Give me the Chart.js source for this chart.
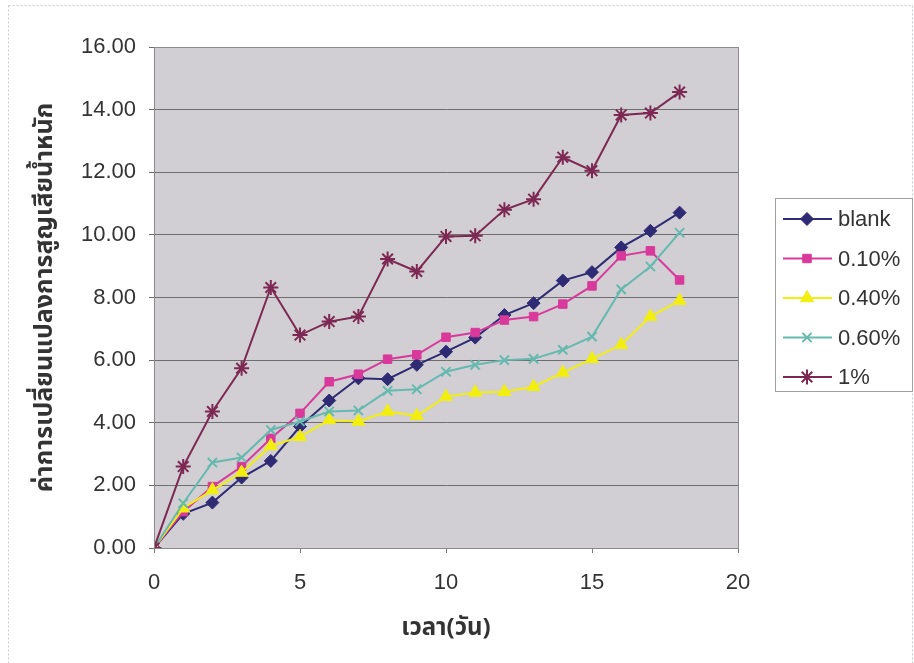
<!DOCTYPE html>
<html>
<head>
<meta charset="utf-8">
<script src="https://cdn.jsdelivr.net/npm/chart.js@4"></script>
<style>
  html, body { margin: 0; padding: 0; background: #fff; }
  #wrap { width: 914px; height: 663px; }
</style>
</head>
<body>
<div id="wrap"><canvas id="chart" width="914" height="663"></canvas></div>
<script>
// days (x) and weight-loss change per treatment
const days = [0, 1, 2, 3, 4, 5, 6, 7, 8, 9, 10, 11, 12, 13, 14, 15, 16, 17, 18];
const blank = [0, 1.09, 1.45, 2.25, 2.78, 3.88, 4.71, 5.42, 5.39, 5.85, 6.27, 6.72, 7.44, 7.82, 8.54, 8.81, 9.60, 10.13, 10.71];
const pct010 = [0, 1.16, 1.96, 2.60, 3.50, 4.30, 5.31, 5.55, 6.03, 6.17, 6.73, 6.88, 7.28, 7.39, 7.79, 8.37, 9.33, 9.49, 8.56];
const pct040 = [0, 1.27, 1.85, 2.41, 3.26, 3.55, 4.09, 4.04, 4.36, 4.22, 4.83, 4.97, 4.99, 5.15, 5.60, 6.04, 6.49, 7.39, 7.90];
const pct060 = [0, 1.43, 2.73, 2.89, 3.77, 4.04, 4.36, 4.39, 5.02, 5.07, 5.63, 5.85, 6.00, 6.04, 6.33, 6.75, 8.26, 8.99, 10.07];
const pct1 = [0, 2.60, 4.36, 5.74, 8.32, 6.80, 7.23, 7.39, 9.23, 8.83, 9.95, 9.97, 10.80, 11.14, 12.48, 12.05, 13.83, 13.89, 14.56];

const seriesNames = ["blank", "0.10%", "0.40%", "0.60%", "1%"];
const seriesValues = [blank, pct010, pct040, pct060, pct1];
const seriesColors = ["#2e2a74", "#d8399a", "#f2ee10", "#66b9ae", "#7d2853"];
const seriesMarkers = ["rectRot", "rect", "triangle", "crossRot", "star"];
const markerSizes = [6.5, 6, 7.5, 6.5, 7.5];

const xTitle = "เวลา(วัน)";
const yTitle = "ค่าการเปลี่ยนแปลงการสูญเสียน้ำหนัก";

const fontMain = "'Liberation Sans', Arial, sans-serif";
const fontThai = "'Noto Sans Thai', 'Noto Sans', sans-serif";

const datasets = seriesNames.map((name, i) => ({
    label: name,
    data: days.map((d, j) => ({ x: d, y: seriesValues[i][j] })),
    showLine: true,
    borderColor: seriesColors[i],
    backgroundColor: seriesColors[i],
    borderWidth: 2,
    pointStyle: seriesMarkers[i],
    pointRadius: markerSizes[i],
    pointBorderWidth: seriesMarkers[i] == "crossRot" || seriesMarkers[i] == "star" ? 2 : 1,
    pointBackgroundColor: seriesColors[i],
    pointBorderColor: seriesColors[i],
    tension: 0,
    order: seriesNames.length - i
}));

// grey plot area, its frame and the boxed legend on the right
const excelLook = {
    id: "excelLook",
    beforeDraw(chart) {
        const { ctx, chartArea: a } = chart;
        ctx.save();
        ctx.fillStyle = "#fff";
        ctx.fillRect(0, 0, chart.width, chart.height);
        ctx.strokeStyle = "#c9c9d6";
        ctx.setLineDash([2, 2]);
        ctx.lineWidth = 1;
        ctx.strokeRect(8.5, 5.5, chart.width - 10, chart.height - 4);
        ctx.setLineDash([]);
        ctx.fillStyle = "#d1cfd3";
        ctx.fillRect(a.left, a.top, a.right - a.left, a.bottom - a.top);
        ctx.restore();
    },
    afterDraw(chart) {
        const { ctx, chartArea: a } = chart;
        ctx.save();
        ctx.strokeStyle = "#8a8a8a";
        ctx.lineWidth = 1;
        ctx.strokeRect(a.left + 0.5, a.top + 0.5, a.right - a.left, a.bottom - a.top);

        // legend
        const lx = 775, ly = 198, lw = 137, lh = 193;
        ctx.strokeStyle = "#a0a0a0";
        ctx.strokeRect(lx + 0.5, ly + 0.5, lw, lh);
        ctx.font = "22px " + fontMain;
        ctx.textBaseline = "middle";
        ctx.textAlign = "left";
        chart.data.datasets.forEach((ds, i) => {
            const y = 219 + i * 39.5;
            ctx.strokeStyle = ds.borderColor;
            ctx.lineWidth = 2;
            ctx.beginPath();
            ctx.moveTo(783, y);
            ctx.lineTo(832, y);
            ctx.stroke();
            ctx.lineWidth = ds.pointBorderWidth;
            ctx.fillStyle = ds.pointBackgroundColor;
            Chart.helpers.drawPoint(ctx, { pointStyle: ds.pointStyle, radius: ds.pointRadius, rotation: 0, borderWidth: ds.pointBorderWidth }, 807, y);
            ctx.fillStyle = "#333";
            ctx.fillText(ds.label, 838, y + 1);
        });
        ctx.restore();
    }
};

new Chart("chart", {
    type: "scatter",
    data: { datasets },
    plugins: [excelLook],
    options: {
        responsive: false,
        animation: false,
        layout: { padding: { top: 47, right: 176, left: 0, bottom: 0 } },
        plugins: {
            legend: { display: false },
            tooltip: { enabled: false }
        },
        scales: {
            x: {
                type: "linear",
                min: 0,
                max: 20,
                afterFit(scale) { scale.height = 115; },
                ticks: {
                    stepSize: 5,
                    padding: 17,
                    color: "#333",
                    font: { family: fontMain, size: 22 }
                },
                grid: { drawOnChartArea: false, drawTicks: true, tickLength: 5, color: "#777" },
                border: { display: true, color: "#777" },
                title: {
                    display: true,
                    text: xTitle,
                    color: "#333",
                    padding: { top: 0, bottom: 18 },
                    font: { family: fontThai, size: 24, weight: "bold" }
                }
            },
            y: {
                min: 0,
                max: 16,
                afterFit(scale) { scale.width = 154; },
                ticks: {
                    stepSize: 2,
                    padding: 13,
                    color: "#333",
                    font: { family: fontMain, size: 22 },
                    callback: v => v.toFixed(2)
                },
                grid: { color: "#6e6e6e", lineWidth: 1, drawTicks: true, tickLength: 5 },
                border: { display: true, color: "#777" },
                title: {
                    display: true,
                    text: yTitle,
                    color: "#333",
                    padding: { top: 32, bottom: 0 },
                    font: { family: fontThai, size: 25, weight: "bold" }
                }
            }
        }
    }
});
</script>
</body>
</html>
